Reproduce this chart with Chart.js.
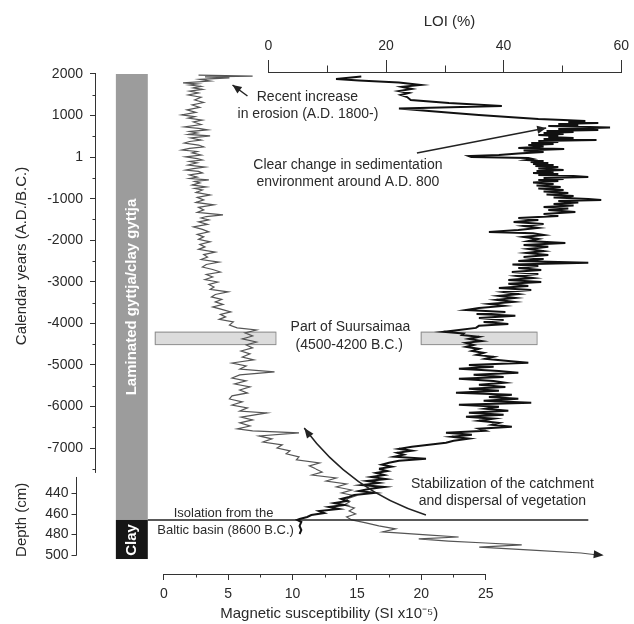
<!DOCTYPE html>
<html>
<head>
<meta charset="utf-8">
<script src="https://cdn.jsdelivr.net/npm/chart.js@4.4.0/dist/chart.umd.min.js"></script>
<style>
  html, body { margin: 0; padding: 0; background: #fff; }
</style>
</head>
<body>
<canvas id="chart" width="634" height="624"></canvas>
<script>
// tick values / labels
const magTickValues = [0, 5, 10, 15, 20, 25];
const magMinorTicks = [2.5, 7.5, 12.5, 17.5, 22.5];
const loiTickValues = [0, 20, 40, 60];
const loiMinorTicks = [10, 30, 50];
const yearTickValues = [2000, 1000, 0, -1000, -2000, -3000, -4000, -5000, -6000, -7000];
const yearTickLabels = ['2000', '1000', '1', '-1000', '-2000', '-3000', '-4000', '-5000', '-6000', '-7000'];
const yearMinorTicks = [1500, 500, -500, -1500, -2500, -3500, -4500, -5500, -6500, -7500];
const depthTickValues = [440, 460, 480, 500];

// LOI (%) against calendar years
const loiYears = [1940, 1880, 1845, 1795, 1735, 1690, 1640, 1590, 1545, 1495, 1445, 1375, 1300, 1230, 1170, 1110, 1060, 1015, 965, 915,
  895, 870, 845, 820, 795, 775, 750, 715, 675, 655, 630, 605, 580, 555, 530, 510, 485, 460, 435, 410,
  390, 365, 340, 315, 290, 255, 220, 195, 160, 125, 85, 50, 25, 5, -20, -45, -70, -95, -115, -140,
  -165, -190, -215, -240, -275, -310, -335, -360, -380, -405, -430, -455, -480, -500, -525, -550, -575, -610, -645, -685,
  -720, -755, -790, -825, -865, -900, -935, -970, -1005, -1030, -1055, -1090, -1130, -1165, -1200, -1235, -1270, -1320, -1370, -1415,
  -1465, -1515, -1560, -1610, -1655, -1705, -1755, -1800, -1835, -1875, -1920, -1970, -2020, -2065, -2115, -2160, -2210, -2260, -2305, -2355,
  -2405, -2450, -2500, -2545, -2585, -2620, -2670, -2715, -2765, -2810, -2860, -2910, -2955, -3005, -3050, -3100, -3150, -3195, -3245, -3295,
  -3340, -3390, -3435, -3485, -3535, -3580, -3630, -3680, -3725, -3775, -3820, -3870, -3920, -3965, -4015, -4060, -4110, -4160, -4205, -4245,
  -4280, -4325, -4375, -4425, -4470, -4520, -4565, -4615, -4665, -4710, -4760, -4805, -4855, -4905, -4950, -5000, -5045, -5095, -5145, -5190,
  -5240, -5290, -5335, -5385, -5430, -5480, -5530, -5575, -5625, -5670, -5720, -5770, -5815, -5865, -5910, -5960, -6010, -6055, -6105, -6150,
  -6200, -6250, -6295, -6345, -6395, -6440, -6490, -6535, -6585, -6635, -6680, -6730, -6775, -6825, -6875, -6920, -6970, -7020, -7065, -7115,
  -7160, -7210, -7260, -7305, -7355, -7400, -7450, -7500];
const loiYearValues = [15.8, 11.5, 15.4, 22.2, 25.9, 22.7, 24.4, 22.2, 23.9, 22.5, 23.6, 24.2, 30.7, 39.7, 22.2, 27.3, 31.5, 35.8, 40.8, 45.9,
  50.2, 53.9, 51, 56.1, 49.3, 52.7, 47.6, 58.1, 49.3, 56.1, 47.3, 51.9, 46.8, 50.2, 45.9, 49.3, 47.6, 51.9, 46.8, 55.8,
  45.9, 49.3, 44.7, 48.5, 44.2, 46.8, 42.5, 50.3, 43.4, 46.8, 42.5, 39.2, 34.1, 34.5, 44.2, 45, 43.9, 46.8, 44.6, 47.6,
  45, 48.5, 45.4, 49.3, 45.9, 50.2, 45.6, 48.5, 45, 49.3, 45.9, 51.9, 54.4, 46.8, 50.2, 45.9, 49.3, 45, 48.5, 45.6,
  49.7, 45.9, 50.2, 46.8, 51, 47.3, 51.9, 48.5, 54.4, 56.6, 49.3, 52.7, 48.5, 51.9, 46.8, 51, 47.6, 52.2, 46.8, 49.3,
  42.5, 45.9, 41.7, 46.8, 43.4, 45.9, 42.5, 37.5, 45, 46.8, 43.4, 45.9, 44.2, 50.5, 43.4, 47.6, 44.2, 46.8, 43.9, 47.6,
  43.4, 46.8, 42.5, 54.4, 41.5, 45.9, 42.5, 46.4, 41.4, 45.9, 42.2, 45, 40.8, 46.4, 40.8, 44.2, 39.2, 44.7, 40, 42.5,
  39.2, 42, 38.8, 41.7, 37.5, 40, 35.8, 33.6, 40.3, 35.4, 42, 35.8, 40, 36.6, 40.8, 35.8, 35.3, 32.4, 29.8, 33.2,
  32.9, 35.8, 34.1, 36.3, 33.6, 34.9, 33.6, 35.8, 34.6, 36.6, 35.4, 38.3, 36.9, 40.8, 44.2, 34.1, 38.3, 32.4, 39.2, 42.5,
  34.9, 40, 32.4, 38.3, 40.3, 35.8, 40.3, 34.1, 39.2, 31.9, 41.4, 37.5, 42.5, 36.6, 44.7, 32.4, 39.2, 36.9, 40.8, 34.1,
  40, 33.6, 38.3, 35.8, 39.2, 38, 41.4, 35.8, 36.9, 30.2, 34.6, 31.2, 34.1, 31.5, 30.2, 27.3, 24.4, 22.2, 24.4, 21.9,
  23, 21.4, 26.8, 22.2, 20.5, 19.3, 21, 18.8];

// LOI (%) against depth (cm), below the age scale
const loiDepths = [416.8, 418.7, 420.6, 422.6, 424.5, 426.5, 428.4, 430.3, 432.3, 434.2, 436.1, 438.1, 440, 441.9, 443.9, 445.8,
  447.7, 449.7, 451.6, 453.5, 455.5, 457.4, 459.4, 461.3, 463.2, 465.2, 466.1, 468.1, 471.9, 475.8, 479.7];
const loiDepthValues = [18.8, 20.2, 18.3, 19.7, 17.5, 20, 16.8, 18.8, 15.9, 19.7, 17.1, 15.4, 18, 14.6, 13.7, 12.4,
  13.4, 11.2, 12.9, 10.3, 12, 8.6, 9.5, 7.3, 6.6, 5.3, 4.9, 5.6, 5.3, 5.6, 5.3];

// magnetic susceptibility against calendar years
const magYears = [1975, 1950, 1930, 1905, 1870, 1830,
  1785, 1760, 1735, 1700, 1665, 1630, 1590, 1545, 1495, 1440, 1375, 1315, 1255, 1195, 1135, 1075, 1015, 975, 940, 890,
  845, 785, 725, 690, 655, 615, 580, 545, 510, 460, 410, 375, 340, 290, 245, 210, 170, 135, 100, 50,
  5, -35, -70, -105, -140, -190, -240, -275, -310, -345, -380, -430, -480, -515, -550, -585, -620, -670, -720, -755,
  -790, -850, -910, -970, -1030, -1090, -1150, -1210, -1270, -1330, -1390, -1430, -1465, -1510, -1560, -1620, -1680, -1740, -1800, -1860,
  -1920, -1980, -2040, -2100, -2160, -2220, -2285, -2345, -2405, -2465, -2525, -2585, -2645, -2705, -2765, -2825, -2885, -2945, -3005, -3065,
  -3125, -3185, -3245, -3305, -3365, -3425, -3485, -3545, -3605, -3665, -3725, -3785, -3845, -3905, -3965,
  -4040, -4110, -4160, -4230, -4305, -4375, -4450, -4520, -4590, -4665, -4735, -4810, -4880, -4955, -5025, -5100,
  -5170, -5240, -5315, -5385, -5460, -5530, -5605, -5675, -5745, -5820, -5890, -5965, -6035, -6110, -6155, -6255, -6325, -6395, -6470, -6540,
  -6590, -6635, -6710, -6780, -6855, -6925, -7000, -7070, -7140, -7215, -7285, -7360, -7430, -7500];
const magYearValues = [2.7, 6.9, 3.2, 5.1, 2.8, 3.6,
  1.5, 2.6, 2.0, 2.9, 2.3, 3.0, 2.0, 2.7, 1.9, 2.9, 2.4, 3.1, 2.2, 2.8, 1.8, 2.5, 1.4, 2.4, 1.9, 3.0,
  2.3, 2.9, 1.6, 2.7, 3.4, 2.0, 2.6, 1.9, 3.6, 2.1, 2.9, 2.0, 1.6, 2.7, 3.1, 2.0, 1.4, 2.6, 2.2, 2.9,
  1.7, 2.6, 3.0, 2.0, 2.6, 1.9, 3.2, 2.3, 1.7, 2.7, 3.0, 2.0, 2.6, 2.0, 3.5, 2.4, 2.8, 2.2, 3.3, 2.4,
  3.0, 2.5, 3.6, 2.6, 3.1, 2.5, 3.9, 2.7, 3.1, 2.6, 4.6, 3.3, 2.9, 3.5, 2.7, 3.4, 2.3, 3.0, 3.5, 2.6,
  3.1, 2.7, 3.6, 2.8, 3.2, 2.7, 4.0, 3.1, 3.4, 2.9, 4.3, 3.3, 3.0, 3.8, 4.4, 3.3, 3.8, 3.2, 4.2, 3.5,
  3.9, 3.6, 5.0, 4.0, 3.7, 4.5, 4.0, 4.6, 3.8, 4.5, 5.2, 4.4, 4.8, 4.3, 5.4,
  5.1, 5.7, 7.2, 6.3, 6.9, 6.1, 7.2, 6.4, 6.9, 6.0, 6.7, 6.1, 7.0, 5.3, 6.4, 5.9,
  8.6, 5.9, 5.3, 6.4, 5.5, 6.7, 5.9, 6.5, 5.3, 5.1, 6.1, 5.3, 6.5, 5.9, 8.0, 6.0, 6.9, 5.9, 6.7, 5.7,
  6.9, 10.5, 7.4, 8.4, 7.7, 9.2, 8.8, 9.8, 9.5, 10.5, 10.3, 12.1, 11.3, 11.8];

// magnetic susceptibility against depth (cm)
const magDepths = [416.8, 419.7, 422.6, 425.5, 428.4, 431.3, 434.2, 437.1, 440, 442.9, 445.8, 448.7, 451.6, 454.5, 457.4, 460.3,
  463.2, 466.1, 469, 471.9, 474.8, 477.7, 480.6, 482.6, 484.5, 486.5, 488.4, 490.3, 492.3, 495.2, 498.1, 500];
const magDepthValues = [11.8, 12.3, 11.5, 13.4, 12.6, 14.2, 13.4, 14.6, 13.8, 14.9, 14.2, 14.4, 14.0, 14.8, 14.4, 14.9,
  14.2, 14.6, 15.7, 16.7, 18.0, 17.0, 20.4, 22.9, 19.8, 22.1, 25.0, 27.8, 24.5, 28.6, 32.4, 33.7];

const suursaimaaYears = [-4500, -4200];
const isolationDepth = 466.1;
const clayBottomDepth = 503.9;

const FONT = "'Liberation Sans', Arial, Helvetica, sans-serif";
const INK = '#2a2a2a';

function pairs(ys, xs) {
  return ys.map((v, i) => ({ x: xs[i], y: v }));
}

function arrowHead(ctx, x0, y0, x1, y1, len, wid) {
  const a = Math.atan2(y1 - y0, x1 - x0);
  const c = Math.cos(a), s = Math.sin(a);
  ctx.beginPath();
  ctx.moveTo(x1, y1);
  ctx.lineTo(x1 - len * c + wid * s, y1 - len * s - wid * c);
  ctx.lineTo(x1 - len * c - wid * s, y1 - len * s + wid * c);
  ctx.closePath();
  ctx.fill();
}

const overlay = {
  id: 'overlay',
  beforeDatasetsDraw(chart) {
    const { ctx, scales } = chart;
    const mx = scales.x, lx = scales.xl, yy = scales.y, yd = scales.yd;
    ctx.save();
    // sediment column
    const cl = mx.getPixelForValue(-3.72), cr = mx.getPixelForValue(-1.24);
    const top = yy.getPixelForValue(2000), mid = yd.getPixelForValue(isolationDepth), bot = yd.getPixelForValue(clayBottomDepth);
    ctx.fillStyle = '#9c9c9c';
    ctx.fillRect(cl, top, cr - cl, mid - top);
    ctx.fillStyle = '#161616';
    ctx.fillRect(cl, mid, cr - cl, bot - mid);

    // Suursaimaa boxes
    const y1 = yy.getPixelForValue(suursaimaaYears[1]), y2 = yy.getPixelForValue(suursaimaaYears[0]);
    ctx.fillStyle = '#dcdcdc';
    ctx.strokeStyle = '#8c8c8c';
    ctx.lineWidth = 1;
    let a = mx.getPixelForValue(-0.7), b = mx.getPixelForValue(8.67);
    ctx.fillRect(a, y1, b - a, y2 - y1);
    ctx.strokeRect(a + 0.5, y1 + 0.5, b - a, y2 - y1);
    a = lx.getPixelForValue(25.9); b = lx.getPixelForValue(45.6);
    ctx.fillRect(a, y1, b - a, y2 - y1);
    ctx.strokeRect(a + 0.5, y1 + 0.5, b - a, y2 - y1);
    ctx.restore();
  },
  afterDraw(chart) {
    const { ctx, chartArea, scales } = chart;
    const mx = scales.x, lx = scales.xl, yy = scales.y, yd = scales.yd;
    ctx.save();
    ctx.strokeStyle = '#333';
    ctx.fillStyle = '#333';
    ctx.lineWidth = 1;

    // axis lines
    const ax = chartArea.left - 0.5;
    ctx.beginPath();
    ctx.moveTo(ax, yy.getPixelForValue(2000));
    ctx.lineTo(ax, yy.getPixelForValue(-7600));
    const tY = chartArea.top - 0.5;
    ctx.moveTo(lx.getPixelForValue(0), tY);
    ctx.lineTo(lx.getPixelForValue(60), tY);
    const bY = chartArea.bottom + 0.5;
    ctx.moveTo(mx.getPixelForValue(0), bY);
    ctx.lineTo(mx.getPixelForValue(25), bY);
    const dX = Math.round(mx.getPixelForValue(-6.73)) - 0.5;
    ctx.moveTo(dX, yd.getPixelForValue(424.5));
    ctx.lineTo(dX, yd.getPixelForValue(500) + 0.5);
    // minor ticks
    yearMinorTicks.forEach(v => {
      const p = Math.round(yy.getPixelForValue(v)) + 0.5;
      ctx.moveTo(ax, p); ctx.lineTo(ax - 3, p);
    });
    loiMinorTicks.forEach(v => {
      const p = Math.round(lx.getPixelForValue(v)) + 0.5;
      ctx.moveTo(p, tY); ctx.lineTo(p, tY - 7);
    });
    magMinorTicks.forEach(v => {
      const p = Math.round(mx.getPixelForValue(v)) + 0.5;
      ctx.moveTo(p, bY); ctx.lineTo(p, bY + 3);
    });
    depthTickValues.forEach(v => {
      const p = Math.round(yd.getPixelForValue(v)) + 0.5;
      ctx.moveTo(dX, p); ctx.lineTo(dX - 5, p);
    });
    ctx.stroke();

    // depth labels
    ctx.fillStyle = INK;
    ctx.font = '14px ' + FONT;
    ctx.textAlign = 'right';
    ctx.textBaseline = 'middle';
    depthTickValues.forEach(v => ctx.fillText(String(v), dX - 8, yd.getPixelForValue(v)));

    // axis titles
    ctx.font = '15px ' + FONT;
    ctx.textAlign = 'center';
    ctx.fillText('LOI (%)', lx.getPixelForValue(30.8), chartArea.top - 51);
    ctx.fillText('Magnetic susceptibility (SI x10\u207B\u2075)', mx.getPixelForValue(12.85), chartArea.bottom + 40);
    ctx.save();
    ctx.translate(22, yy.getPixelForValue(-2380));
    ctx.rotate(-Math.PI / 2);
    ctx.fillText('Calendar years (A.D./B.C.)', 0, 0);
    ctx.restore();
    ctx.save();
    ctx.translate(22, yd.getPixelForValue(466));
    ctx.rotate(-Math.PI / 2);
    ctx.fillText('Depth (cm)', 0, 0);
    ctx.restore();

    // column labels
    ctx.fillStyle = '#fff';
    ctx.font = 'bold 15px ' + FONT;
    ctx.save();
    ctx.translate(mx.getPixelForValue(-2.48), yy.getPixelForValue(-3366));
    ctx.rotate(-Math.PI / 2);
    ctx.fillText('Laminated gyttja/clay gyttja', 0, 0);
    ctx.restore();
    ctx.save();
    ctx.translate(mx.getPixelForValue(-2.48), yd.getPixelForValue(485.5));
    ctx.rotate(-Math.PI / 2);
    ctx.fillText('Clay', 0, 0);
    ctx.restore();

    // annotations
    ctx.fillStyle = INK;
    ctx.font = '14px ' + FONT;
    const text = (s, xv, y) => ctx.fillText(s, mx.getPixelForValue(xv), y);
    text('Recent increase', 11.15, yy.getPixelForValue(1447));
    text('in erosion (A.D. 1800-)', 11.2, yy.getPixelForValue(1037));
    text('Clear change in sedimentation', 14.3, yy.getPixelForValue(-190));
    text('environment around A.D. 800', 14.3, yy.getPixelForValue(-599));
    text('Part of Suursaimaa', 14.5, yy.getPixelForValue(-4088));
    text('(4500-4200 B.C.)', 14.4, yy.getPixelForValue(-4521));
    text('Stabilization of the catchment', 26.3, yd.getPixelForValue(431.3));
    text('and dispersal of vegetation', 26.3, yd.getPixelForValue(447.7));
    ctx.font = '13px ' + FONT;
    text('Isolation from the', 4.64, yd.getPixelForValue(459.4));
    text('Baltic basin (8600 B.C.)', 4.8, yd.getPixelForValue(475.8));

    // arrows
    ctx.strokeStyle = '#222';
    ctx.fillStyle = '#222';
    ctx.lineWidth = 1.5;
    let x0 = mx.getPixelForValue(6.5), y0 = yy.getPixelForValue(1471);
    let x1 = mx.getPixelForValue(5.34), y1 = yy.getPixelForValue(1735);
    ctx.beginPath(); ctx.moveTo(x0, y0); ctx.lineTo(x1, y1); ctx.stroke();
    arrowHead(ctx, x0, y0, x1, y1, 9, 4);

    x0 = mx.getPixelForValue(19.66); y0 = yy.getPixelForValue(99);
    x1 = mx.getPixelForValue(29.7); y1 = yy.getPixelForValue(700);
    ctx.beginPath(); ctx.moveTo(x0, y0); ctx.lineTo(x1, y1); ctx.stroke();
    arrowHead(ctx, x0, y0, x1, y1, 9, 4);

    x0 = mx.getPixelForValue(20.36); y0 = yd.getPixelForValue(461.3);
    const cx = mx.getPixelForValue(14.55), cy = yd.getPixelForValue(438.1);
    x1 = mx.getPixelForValue(10.91); y1 = yd.getPixelForValue(377.1);
    ctx.beginPath(); ctx.moveTo(x0, y0); ctx.quadraticCurveTo(cx, cy, x1, y1); ctx.stroke();
    arrowHead(ctx, cx, cy, x1, y1, 10, 4);

    // off-scale arrow at the end of the susceptibility curve
    const n = magDepths.length;
    x0 = mx.getPixelForValue(magDepthValues[n - 2]); y0 = yd.getPixelForValue(magDepths[n - 2]);
    x1 = mx.getPixelForValue(magDepthValues[n - 1]); y1 = yd.getPixelForValue(magDepths[n - 1]);
    arrowHead(ctx, x0, y0, x1 + 6, y1 + 0.3, 10, 4);
    ctx.restore();
  }
};

const tickFont = { family: FONT, size: 14 };

new Chart(document.getElementById('chart'), {
  type: 'line',
  data: {
    datasets: [
      { data: pairs(loiYears, loiYearValues), xAxisID: 'xl', yAxisID: 'y', borderColor: '#111', borderWidth: 2 },
      { data: pairs(loiDepths, loiDepthValues), xAxisID: 'xl', yAxisID: 'yd', borderColor: '#111', borderWidth: 2 },
      { data: [{ x: -1.24, y: isolationDepth }, { x: 32.97, y: isolationDepth }], xAxisID: 'x', yAxisID: 'yd', borderColor: '#222', borderWidth: 1.5 },
      { data: pairs(magYears, magYearValues), xAxisID: 'x', yAxisID: 'y', borderColor: '#555', borderWidth: 1.2 },
      { data: pairs(magDepths, magDepthValues), xAxisID: 'x', yAxisID: 'yd', borderColor: '#555', borderWidth: 1.2 }
    ]
  },
  options: {
    responsive: false,
    animation: false,
    devicePixelRatio: 1,
    layout: { padding: { left: 0, top: 0, right: 11, bottom: 0 } },
    elements: { point: { radius: 0 }, line: { tension: 0 } },
    plugins: { legend: { display: false }, tooltip: { enabled: false } },
    scales: {
      x: {
        type: 'linear', position: 'bottom', min: -5.263, max: 35.526, bounds: 'data',
        afterBuildTicks: s => { s.ticks = magTickValues.map(v => ({ value: v })); },
        afterFit: s => { s.height = 50; },
        ticks: { font: tickFont, color: INK, padding: 6, autoSkip: false, maxRotation: 0, callback: v => String(v) },
        grid: { drawOnChartArea: false, tickLength: 6, tickColor: '#333' },
        border: { display: false }
      },
      xl: {
        type: 'linear', position: 'top', min: -29.32, max: 60, bounds: 'data',
        afterBuildTicks: s => { s.ticks = loiTickValues.map(v => ({ value: v })); },
        afterFit: s => { s.height = 73; },
        ticks: { font: tickFont, color: INK, padding: 5, autoSkip: false, maxRotation: 0, callback: v => String(v) },
        grid: { drawOnChartArea: false, tickLength: 13, tickColor: '#333' },
        border: { display: false }
      },
      y: {
        type: 'linear', position: 'left', min: -10032, max: 2024, bounds: 'data',
        afterBuildTicks: s => { s.ticks = yearTickValues.map(v => ({ value: v })); },
        afterFit: s => { s.width = 96; },
        ticks: { font: tickFont, color: INK, padding: 7, autoSkip: false, callback: v => yearTickLabels[yearTickValues.indexOf(v)] },
        grid: { drawOnChartArea: false, tickLength: 6, tickColor: '#333' },
        border: { display: false }
      },
      yd: {
        type: 'linear', position: 'left', display: false, reverse: true, min: 33.55, max: 518.4, bounds: 'data',
        afterBuildTicks: s => { s.ticks = depthTickValues.map(v => ({ value: v })); }
      }
    }
  },
  plugins: [overlay]
});
</script>
</body>
</html>
